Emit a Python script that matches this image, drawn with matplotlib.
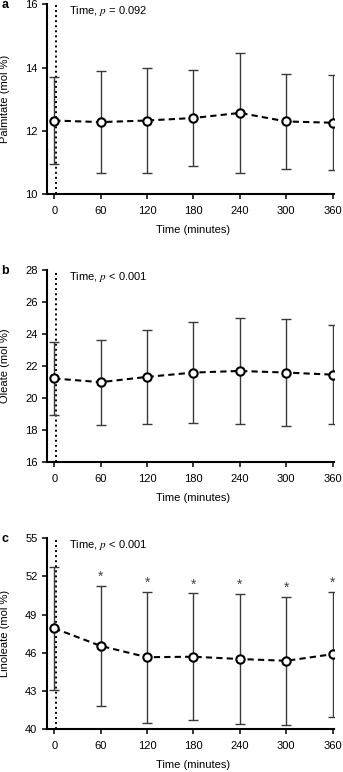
import matplotlib
matplotlib.use("Agg")
import matplotlib.pyplot as plt

plt.rcParams['font.family'] = ['Liberation Sans', 'DejaVu Sans']
plt.rcParams['mathtext.fontset'] = 'stix'

minutes = [0, 60, 120, 180, 240, 300, 360]

palmitate_mean = [12.33, 12.28, 12.33, 12.41, 12.57, 12.30, 12.26]
palmitate_sd = [1.36, 1.62, 1.66, 1.52, 1.90, 1.50, 1.50]

oleate_mean = [21.23, 21.00, 21.33, 21.60, 21.70, 21.60, 21.47]
oleate_sd = [2.26, 2.66, 2.95, 3.17, 3.32, 3.33, 3.10]

linoleate_mean = [47.93, 46.55, 45.66, 45.70, 45.52, 45.38, 45.90]
linoleate_sd = [4.82, 4.70, 5.16, 4.97, 5.08, 5.02, 4.92]
linoleate_star = [False, True, True, True, True, True, True]

panels = [
    ("a", "Palmitate (mol %)", palmitate_mean, palmitate_sd, None,
     (10, 16), [10, 12, 14, 16], "Time, $p$ = 0.092"),
    ("b", "Oleate (mol %)", oleate_mean, oleate_sd, None,
     (16, 28), [16, 18, 20, 22, 24, 26, 28], "Time, $p$ < 0.001"),
    ("c", "Linoleate (mol %)", linoleate_mean, linoleate_sd, linoleate_star,
     (40, 55), [40, 43, 46, 49, 52, 55], "Time, $p$ < 0.001"),
]

# axes boxes in pixels (top, bottom) for a 343x772 figure
W, H = 343, 772
boxes = [(4.3, 194.3), (270.0, 462.3), (538.3, 729.3)]
left_px, right_px = 46.5, 333.5

fig = plt.figure(figsize=(W / 100, H / 100), dpi=100)

for (letter, ylabel, mean, sd, stars, ylim, yticks, ptext), (top, bot) in zip(panels, boxes):
    ax = fig.add_axes([left_px / W, 1 - bot / H, (right_px - left_px) / W, (bot - top) / H])
    ax.axvline(2, color="black", linestyle=(0, (1, 1.6)), linewidth=1.4, zorder=1)
    ax.errorbar(minutes, mean, yerr=sd, fmt="none", ecolor="#3a3a3a",
                elinewidth=1.0, capsize=3.5, capthick=1.0, zorder=2)
    ax.plot(minutes, mean, color="black", linestyle=(0, (3, 2)), linewidth=1.5,
            marker="o", markersize=6, markerfacecolor="white",
            markeredgecolor="black", markeredgewidth=1.5, zorder=3)
    if stars is not None:
        for x, m, s, st in zip(minutes, mean, sd, stars):
            if st:
                ax.annotate("*", (x, m + s), xytext=(0, 1.5), textcoords="offset points",
                            ha="center", va="bottom", fontsize=10, color="#444444")

    ax.set_xlim(-10, 361)
    ax.set_ylim(*ylim)
    ax.set_xticks(minutes)
    ax.set_yticks(yticks)
    for side in ("top", "right"):
        ax.spines[side].set_visible(False)
    for side in ("left", "bottom"):
        ax.spines[side].set_linewidth(1.5)
    ax.tick_params(direction="out", length=3.5, width=1.1, labelsize=8, pad=3)
    ax.tick_params(axis="x", pad=5)

    ax.set_xlabel("Time (minutes)", fontsize=8)
    ax.xaxis.set_label_coords(0.51, -0.16)
    ax.set_ylabel(ylabel, fontsize=8)
    ax.yaxis.set_label_coords(-0.128, 0.5)

    ax.text(0.078, 0.963, ptext, transform=ax.transAxes, fontsize=8,
            ha="left", va="center")
    fig.text(5 / W, 1 - (top + 1) / H, letter, fontsize=9, fontweight="bold",
             ha="center", va="center")

fig.savefig("out.png", dpi=100)
plt.close(fig)
